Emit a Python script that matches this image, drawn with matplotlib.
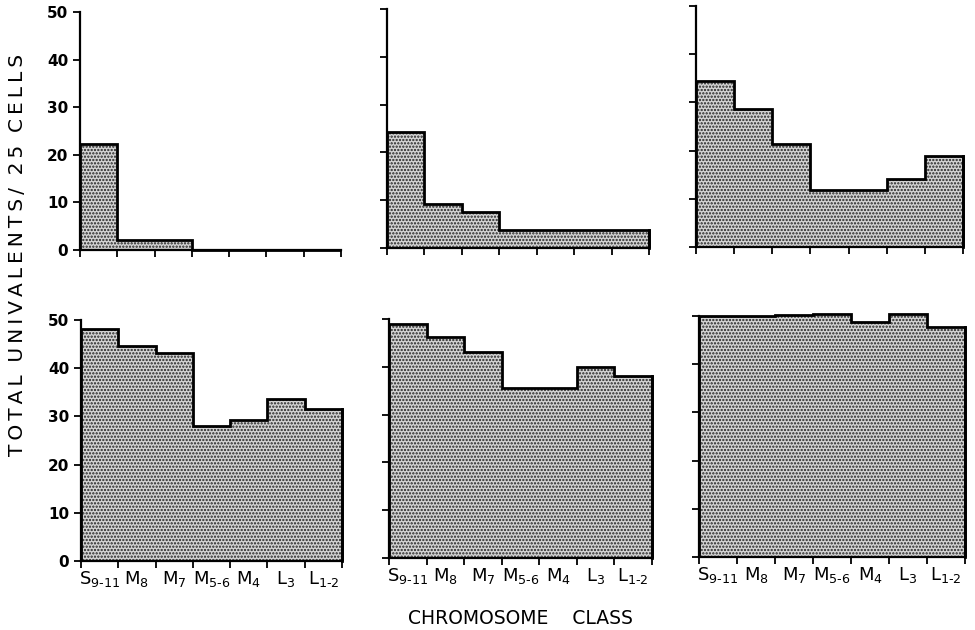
import numpy as np
import matplotlib
matplotlib.use("Agg")
import matplotlib.pyplot as plt

categories = [r"$\mathregular{S_{9\text{-}11}}$", r"$\mathregular{M_{8}}$", r"$\mathregular{M_{7}}$",
              r"$\mathregular{M_{5\text{-}6}}$", r"$\mathregular{M_{4}}$", r"$\mathregular{L_{3}}$",
              r"$\mathregular{L_{1\text{-}2}}$"]
panel_a = [22.2, 2.1, 2.1, 0.0, 0.0, 0.0, 0.0]
panel_b = [24.3, 9.2, 7.6, 3.7, 3.7, 3.7, 3.7]
panel_c = [34.5, 28.6, 21.3, 11.8, 11.8, 14.1, 18.9]
panel_d = [48.1, 44.7, 43.2, 28.0, 29.3, 33.7, 31.5]
panel_e = [48.9, 46.3, 43.0, 35.5, 35.5, 39.9, 38.1]
panel_f = [50.0, 50.1, 50.2, 50.4, 48.7, 50.4, 47.7]
y_ticks = [0, 10, 20, 30, 40, 50]

panels = [panel_a, panel_b, panel_c, panel_d, panel_e, panel_f]

W, H = 975, 630
fig = plt.figure(figsize=(9.75, 6.3), dpi=100)
plt.rcParams['hatch.linewidth'] = 1.1
plt.rcParams['hatch.color'] = '#222222'
rects_px = [
    (80, 12, 341, 250), (387, 9, 649, 248), (696, 6, 963, 247),
    (81, 320, 342, 561), (389, 319, 652, 558), (699, 316, 965, 557),
]
edges = np.arange(len(categories) + 1)
for i, (vals, (x0, y0, x1, y1)) in enumerate(zip(panels, rects_px)):
    ax = fig.add_axes([x0 / W, (H - y1) / H, (x1 - x0) / W, (y1 - y0) / H])
    ax.stairs(vals, edges, baseline=0, fill=True, facecolor='#d4d4d4',
              edgecolor='#222222', hatch='.....', linewidth=0, clip_on=False)
    ax.stairs(vals, edges, baseline=0, fill=False, color='black', linewidth=2.0, clip_on=False)
    ax.plot([edges[-1], edges[-1]], [0, vals[-1]], color='black', linewidth=2.0, clip_on=False)
    ax.set_xlim(0, len(categories))
    ax.set_ylim(0, 50)
    for s in ['top', 'right']:
        ax.spines[s].set_visible(False)
    for s in ['left', 'bottom']:
        ax.spines[s].set_linewidth(1.6)
    ax.set_yticks(y_ticks)
    ax.set_xticks(edges)
    ax.set_xticklabels([])
    ax.tick_params(axis='both', direction='out', length=5, width=1.3)
    if i % 3 == 0:
        ax.set_yticklabels([str(v) for v in y_ticks], fontsize=11, fontweight='bold')
    else:
        ax.set_yticklabels([])
    if i >= 3:
        ax.set_xticks(edges[:-1] + 0.5, minor=True)
        ax.set_xticklabels(categories, minor=True, fontsize=13)
        ax.tick_params(axis='x', which='minor', length=0, pad=6)

ylabel_words = ["TOTAL", "UNIVALENTS/", "25", "CELLS"]
spaced = "  ".join("\u2009".join(w) for w in ylabel_words)
fig.text(18 / W, 1 - 255 / H, spaced, rotation=90,
         ha='center', va='center', fontsize=14.5)
fig.text(520 / W, 1 - 619 / H, "CHROMOSOME    CLASS", ha='center', va='center', fontsize=13.5)

fig.savefig("out.png", dpi=100)
